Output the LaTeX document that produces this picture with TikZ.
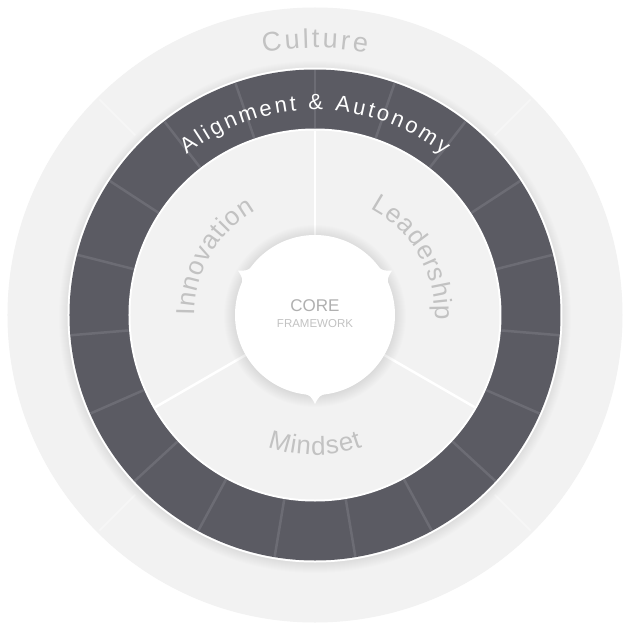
\documentclass[tikz,border=0pt]{standalone}
\usepackage{fontspec}
\setmainfont{Liberation Sans}
\usetikzlibrary{decorations.text}

\definecolor{ringgray}{HTML}{F2F2F2}
\definecolor{darkring}{HTML}{5B5B63}
\definecolor{segline}{HTML}{6C6C74}
\definecolor{labelgray}{HTML}{C2C2C2}
\definecolor{coregray}{HTML}{B0B0B0}

\tikzset{
    ringtext/.style={decorate, decoration={text effects along path, text align=center,
        text effects/.cd, text along path}},
    sectorline/.style={white, line width=2.5pt},
}

\begin{document}
\begin{tikzpicture}[x=1pt,y=1pt]
        % Fix size
        \useasboundingbox[fill=white] (-315,-315) rectangle (315,315);

        % Culture ring
        \fill[ringgray, draw=black!5, line width=1pt] (0,0) circle[radius=307];
        \foreach \a in {45,135,225,315}
            \draw[white!30!ringgray, line width=2pt] (\a:254) -- (\a:305);

        % shadow under dark ring
        \foreach \s in {1,...,10}
            \fill[black, opacity=0.008] (0,-2) circle[radius=246+\s];

        % Alignment ring
        \fill[white] (0,0) circle[radius=247.5];
        \fill[darkring] (0,0) circle[radius=245.5];
        \foreach \k in {0,...,18}
            \draw[segline, line width=2.5pt] ({90+\k*360/19}:187) -- ({90+\k*360/19}:245);
        \fill[white] (0,0) circle[radius=186.5];

        % inner sectors
        \fill[ringgray] (0,0) circle[radius=184.5];
        \foreach \a in {90,210,330}
            \draw[sectorline] (0,0) -- (\a:184.5);

        % core with shadow
        \foreach \s in {1,...,12}
            \fill[black, opacity=0.007] (0,-1) circle[radius=79+\s];
        \fill[white] (0,0) circle[radius=80];
        \foreach \a in {30,150,270}
            \fill[white] ({\a-9}:79) .. controls ({\a-3}:81) .. (\a:89)
                .. controls ({\a+3}:81) .. ({\a+9}:79) -- cycle;

        \node[text=coregray, font=\fontsize{17}{19}\selectfont, inner sep=0pt] (core) at (0,9) {CORE};
        \node[text=labelgray, font=\fontsize{11.5}{13}\selectfont, inner sep=0pt] (frame) at (0,-8.5) {FRAMEWORK};

        %ring labels
        \path[ringtext, decoration={text={Culture}, text effects/.cd,
            characters={anchor=base, inner sep=0pt, text=labelgray, font=\fontsize{27}{29}\selectfont},
            character widths={anchor=base, inner xsep=1.4pt, inner ysep=0pt, font=\fontsize{27}{29}\selectfont}}]
            (180:267) arc[start angle=180, end angle=0, radius=267];
        \path[ringtext, decoration={text={Alignment {\&} Autonomy}, text effects/.cd,
            characters={anchor=base, inner sep=0pt, text=white, font=\fontsize{22}{24}\selectfont},
            character widths={anchor=base, inner xsep=1.4pt, inner ysep=0pt, font=\fontsize{22}{24}\selectfont}}]
            (180:205) arc[start angle=180, end angle=0, radius=205];
        \path[ringtext, decoration={text={Innovation}, text effects/.cd,
            characters={anchor=base, inner sep=0pt, text=labelgray, font=\fontsize{26}{28}\selectfont},
            character widths={anchor=base, inner xsep=0.4pt, inner ysep=0pt, font=\fontsize{26}{28}\selectfont}}]
            (210:120) arc[start angle=210, end angle=90, radius=120];
        \path[ringtext, decoration={text={Leadership}, text effects/.cd,
            characters={anchor=base, inner sep=0pt, text=labelgray, font=\fontsize{26}{28}\selectfont},
            character widths={anchor=base, inner xsep=0.4pt, inner ysep=0pt, font=\fontsize{26}{28}\selectfont}}]
            (90:120) arc[start angle=90, end angle=-30, radius=120];
        \path[ringtext, decoration={text={Mindset}, text effects/.cd,
            characters={anchor=base, inner sep=0pt, text=labelgray, font=\fontsize{26}{28}\selectfont},
            character widths={anchor=base, inner xsep=0.5pt, inner ysep=0pt, font=\fontsize{26}{28}\selectfont}}]
            (210:140) arc[start angle=210, end angle=330, radius=140];
    \end{tikzpicture}
\end{document}
